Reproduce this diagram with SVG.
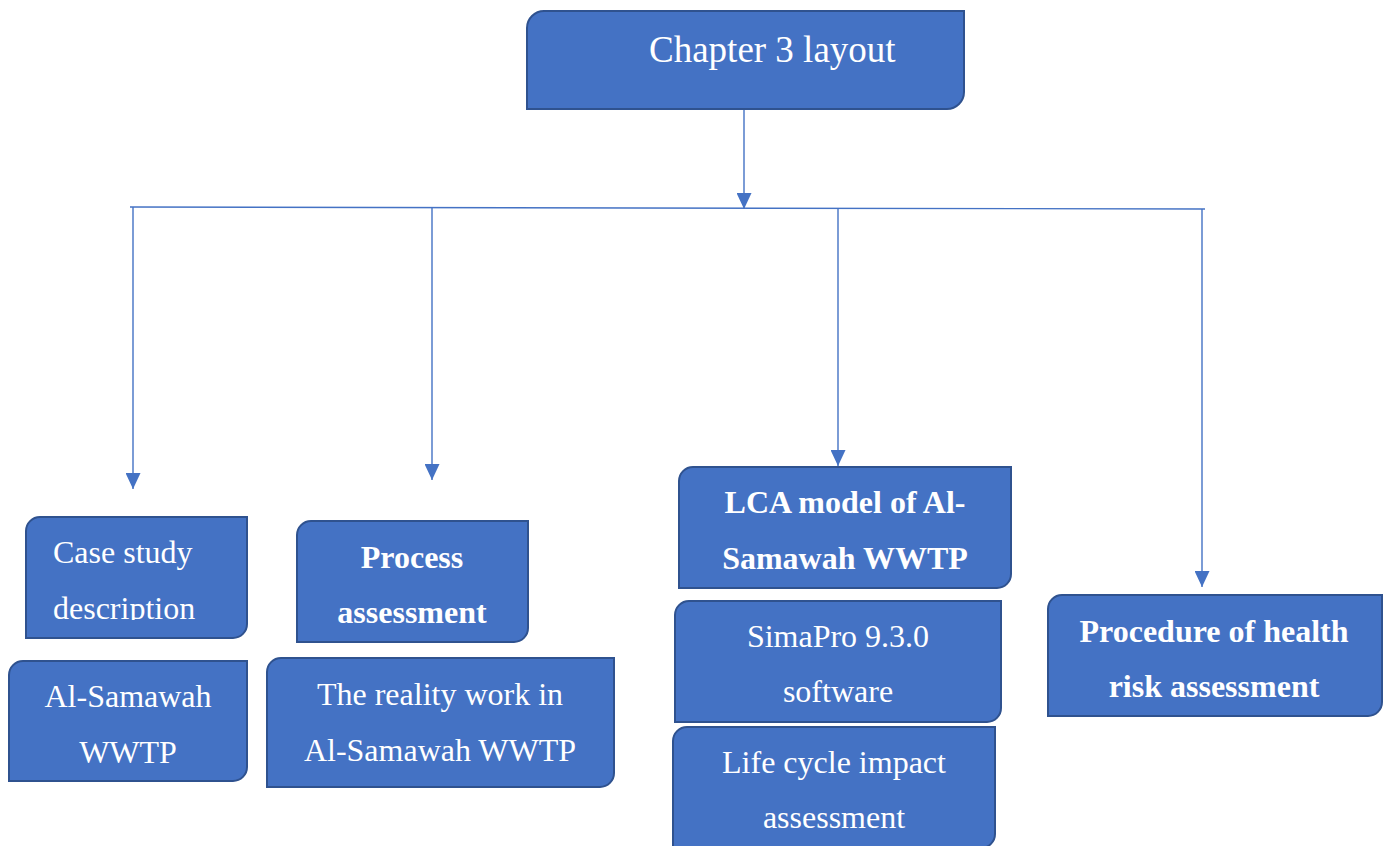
<svg xmlns="http://www.w3.org/2000/svg" width="1383" height="846" viewBox="0 0 1383 846">
  <style>
    .box { fill: #4472C4; stroke: #2F528F; stroke-width: 2; }
    .lbl { font-family: "Liberation Serif", "Times New Roman", serif; font-size: 32px; fill: #FFFFFF; }
    .mid { text-anchor: middle; }
    .bold { font-weight: bold; }
    .conn { stroke: #4472C4; stroke-width: 1.4; fill: none; }
  </style>
  <defs>
    <marker id="arrow" markerUnits="userSpaceOnUse" markerWidth="16" markerHeight="15" refX="16" refY="7.5" orient="auto" viewBox="0 0 16 15">
      <path d="M0,0 L16,7.5 L0,15 Z" fill="#4472C4"/>
    </marker>
    <clipPath id="clip-case">
      <rect x="26" y="517" width="221" height="103"/>
    </clipPath>
  </defs>

  <rect width="1383" height="846" fill="#FFFFFF"/>

  <!-- connectors -->
  <g id="connectors">
    <line class="conn" x1="744" y1="109" x2="744" y2="209" marker-end="url(#arrow)"/>
    <line class="conn" x1="130" y1="207" x2="1205" y2="209"/>
    <line class="conn" x1="133" y1="207" x2="133" y2="489" marker-end="url(#arrow)"/>
    <line class="conn" x1="432" y1="208" x2="432" y2="480" marker-end="url(#arrow)"/>
    <line class="conn" x1="838" y1="208" x2="838" y2="466" marker-end="url(#arrow)"/>
    <line class="conn" x1="1202" y1="209" x2="1202" y2="587" marker-end="url(#arrow)"/>
  </g>

  <!-- root -->
  <g id="chapter3">
    <path class="box" d="M544,11 H964 V92 A17,17 0 0 1 947,109 H527 V28 A17,17 0 0 1 544,11 Z"/>
    <text class="lbl" x="649" y="62" style="font-size:37px">Chapter 3 layout</text>
  </g>

  <g id="case-study">
    <path class="box" d="M40,517 H247 V624 A14,14 0 0 1 233,638 H26 V531 A14,14 0 0 1 40,517 Z"/>
    <g clip-path="url(#clip-case)">
      <text class="lbl" x="53" y="563">Case study</text>
      <text class="lbl" x="53" y="619">description</text>
    </g>
  </g>

  <g id="al-samawah">
    <path class="box" d="M23,661 H247 V767 A14,14 0 0 1 233,781 H9 V675 A14,14 0 0 1 23,661 Z"/>
    <text class="lbl mid" x="128" y="707">Al-Samawah</text>
    <text class="lbl mid" x="128" y="763">WWTP</text>
  </g>

  <g id="process">
    <path class="box" d="M311,521 H528 V628 A14,14 0 0 1 514,642 H297 V535 A14,14 0 0 1 311,521 Z"/>
    <text class="lbl mid bold" x="412" y="568">Process</text>
    <text class="lbl mid bold" x="412" y="623">assessment</text>
  </g>

  <g id="reality">
    <path class="box" d="M281,658 H614 V773 A14,14 0 0 1 600,787 H267 V672 A14,14 0 0 1 281,658 Z"/>
    <text class="lbl mid" x="440" y="705">The reality work in</text>
    <text class="lbl mid" x="440" y="761">Al-Samawah WWTP</text>
  </g>

  <g id="lca-model">
    <path class="box" d="M693,467 H1011 V574 A14,14 0 0 1 997,588 H679 V481 A14,14 0 0 1 693,467 Z"/>
    <text class="lbl mid bold" x="845" y="513">LCA model of Al-</text>
    <text class="lbl mid bold" x="845" y="569">Samawah WWTP</text>
  </g>

  <g id="simapro">
    <path class="box" d="M689,601 H1001 V708 A14,14 0 0 1 987,722 H675 V615 A14,14 0 0 1 689,601 Z"/>
    <text class="lbl mid" x="838" y="647">SimaPro 9.3.0</text>
    <text class="lbl mid" x="838" y="702">software</text>
  </g>

  <g id="lcia">
    <path class="box" d="M687,727 H995 V834 A14,14 0 0 1 981,848 H673 V741 A14,14 0 0 1 687,727 Z"/>
    <text class="lbl mid" x="834" y="773">Life cycle impact</text>
    <text class="lbl mid" x="834" y="828">assessment</text>
  </g>

  <g id="health-risk">
    <path class="box" d="M1062,595 H1382 V702 A14,14 0 0 1 1368,716 H1048 V609 A14,14 0 0 1 1062,595 Z"/>
    <text class="lbl mid bold" x="1214" y="642">Procedure of health</text>
    <text class="lbl mid bold" x="1214" y="697">risk assessment</text>
  </g>
</svg>
